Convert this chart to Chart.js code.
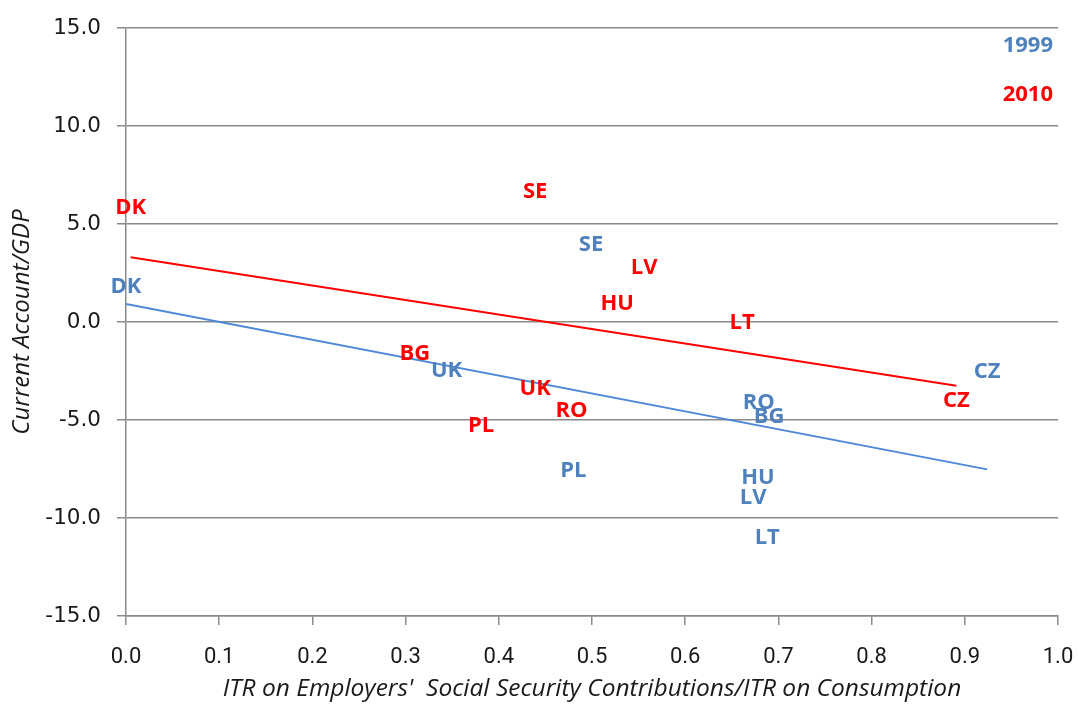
<!DOCTYPE html>
<html>
<head>
<meta charset="utf-8">
<script src="https://cdn.jsdelivr.net/npm/chart.js@4/dist/chart.umd.min.js"></script>
<style>
  html, body { margin: 0; padding: 0; background: #fff; }
  #wrap { width: 1078px; height: 704px; position: relative; }
</style>
</head>
<body>
<div id="wrap"><canvas id="chart"></canvas></div>
<script>
// Data
const seriesNames = ['1999', '2010'];

const countries1999 = ['DK', 'SE', 'UK', 'RO', 'BG', 'PL', 'HU', 'LV', 'LT', 'CZ'];
const x1999 = [0.000, 0.499, 0.344, 0.679, 0.690, 0.480, 0.678, 0.673, 0.688, 0.924];
const y1999 = [1.84, 4.01, -2.41, -4.07, -4.80, -7.55, -7.89, -8.91, -10.98, -2.48];

const countries2010 = ['DK', 'SE', 'LV', 'HU', 'LT', 'BG', 'UK', 'RO', 'PL', 'CZ'];
const x2010 = [0.005, 0.439, 0.556, 0.527, 0.661, 0.310, 0.439, 0.478, 0.381, 0.891];
const y2010 = [5.87, 6.70, 2.82, 0.98, 0.00, -1.58, -3.37, -4.49, -5.26, -3.98];

// Linear trend lines (end points)
const trendX1999 = [0.000, 0.924];
const trendY1999 = [0.92, -7.52];
const trendX2010 = [0.005, 0.891];
const trendY2010 = [3.30, -3.25];

const BLUE = '#4F81BD';
const BLUE_LINE = '#4F88D6';
const RED = '#FF0000';
const GRID = '#8A8A8A';

const toPoints = (xs, ys) => xs.map((x, i) => ({ x: x, y: ys[i] }));

// draws country codes at the points + the small legend
const labelPlugin = {
    id: 'pointLabels',
    afterDatasetsDraw(chart) {
        const ctx = chart.ctx;
        ctx.save();
        ctx.font = 'bold 22px "Open Sans"';
        ctx.textAlign = 'center';
        ctx.textBaseline = 'middle';
        chart.data.datasets.forEach((ds, di) => {
            if (!ds.labels) return;
            const meta = chart.getDatasetMeta(di);
            ctx.fillStyle = ds.labelColor;
            meta.data.forEach((pt, i) => {
                ctx.fillText(ds.labels[i], pt.x, pt.y + 1);
            });
        });
        // legend
        const area = chart.chartArea;
        ctx.textAlign = 'right';
        ctx.fillStyle = BLUE;
        ctx.fillText(seriesNames[0], area.right - 5, area.top + 18);
        ctx.fillStyle = RED;
        ctx.fillText(seriesNames[1], area.right - 5, area.top + 67);
        ctx.restore();
    }
};

const ctx = document.getElementById('chart').getContext('2d');
const chart = new Chart(ctx, {
    type: 'scatter',
    data: {
        datasets: [
            {
                label: seriesNames[0],
                data: toPoints(x1999, y1999),
                labels: countries1999,
                labelColor: BLUE,
                pointRadius: 0,
                pointHoverRadius: 0
            },
            {
                label: seriesNames[1],
                data: toPoints(x2010, y2010),
                labels: countries2010,
                labelColor: RED,
                pointRadius: 0,
                pointHoverRadius: 0
            },
            {
                label: 'trend 1999',
                data: toPoints(trendX1999, trendY1999),
                showLine: true,
                borderColor: BLUE_LINE,
                borderWidth: 2,
                pointRadius: 0
            },
            {
                label: 'trend 2010',
                data: toPoints(trendX2010, trendY2010),
                showLine: true,
                borderColor: RED,
                borderWidth: 2,
                pointRadius: 0
            }
        ]
    },
    options: {
        responsive: true,
        maintainAspectRatio: false,
        animation: false,
        layout: {
            padding: { top: 28, right: 20, left: 0, bottom: 0 }
        },
        plugins: {
            legend: { display: false },
            tooltip: { enabled: false }
        },
        scales: {
            x: {
                type: 'linear',
                min: 0,
                max: 1,
                afterFit: (s) => { s.height = 88; s.paddingLeft = 0; s.paddingRight = 0; },
                ticks: {
                    stepSize: 0.1,
                    color: '#1a1a1a',
                    padding: 19,
                    font: { family: '"Liberation Sans Narrow", Roboto, sans-serif', size: 22 },
                    callback: (v) => v.toFixed(1)
                },
                grid: {
                    drawOnChartArea: false,
                    drawTicks: true,
                    tickLength: 9,
                    color: GRID,
                    lineWidth: 1.5
                },
                border: { display: true, color: GRID, width: 1.5 },
                title: {
                    display: true,
                    text: "ITR on Employers'  Social Security Contributions/ITR on Consumption",
                    color: '#1a1a1a',
                    font: { family: '"Open Sans"', size: 24.5, style: 'italic' },
                    padding: { top: 0, bottom: 0 }
                }
            },
            y: {
                min: -15,
                max: 15,
                afterFit: (s) => { s.width = 126; s.paddingTop = 0; s.paddingBottom = 0; },
                ticks: {
                    stepSize: 5,
                    color: '#1a1a1a',
                    padding: 16,
                    font: { family: '"DejaVu Sans"', size: 21.5 },
                    callback: (v) => v.toFixed(1)
                },
                grid: {
                    color: GRID,
                    lineWidth: 1.5,
                    tickLength: 9
                },
                border: { display: true, color: GRID, width: 1.5 },
                title: {
                    display: true,
                    text: 'Current Account/GDP',
                    color: '#1a1a1a',
                    font: { family: '"Open Sans"', size: 24, style: 'italic' },
                    padding: { top: 8, bottom: 0 }
                }
            }
        }
    },
    plugins: [labelPlugin]
});
</script>
</body>
</html>
